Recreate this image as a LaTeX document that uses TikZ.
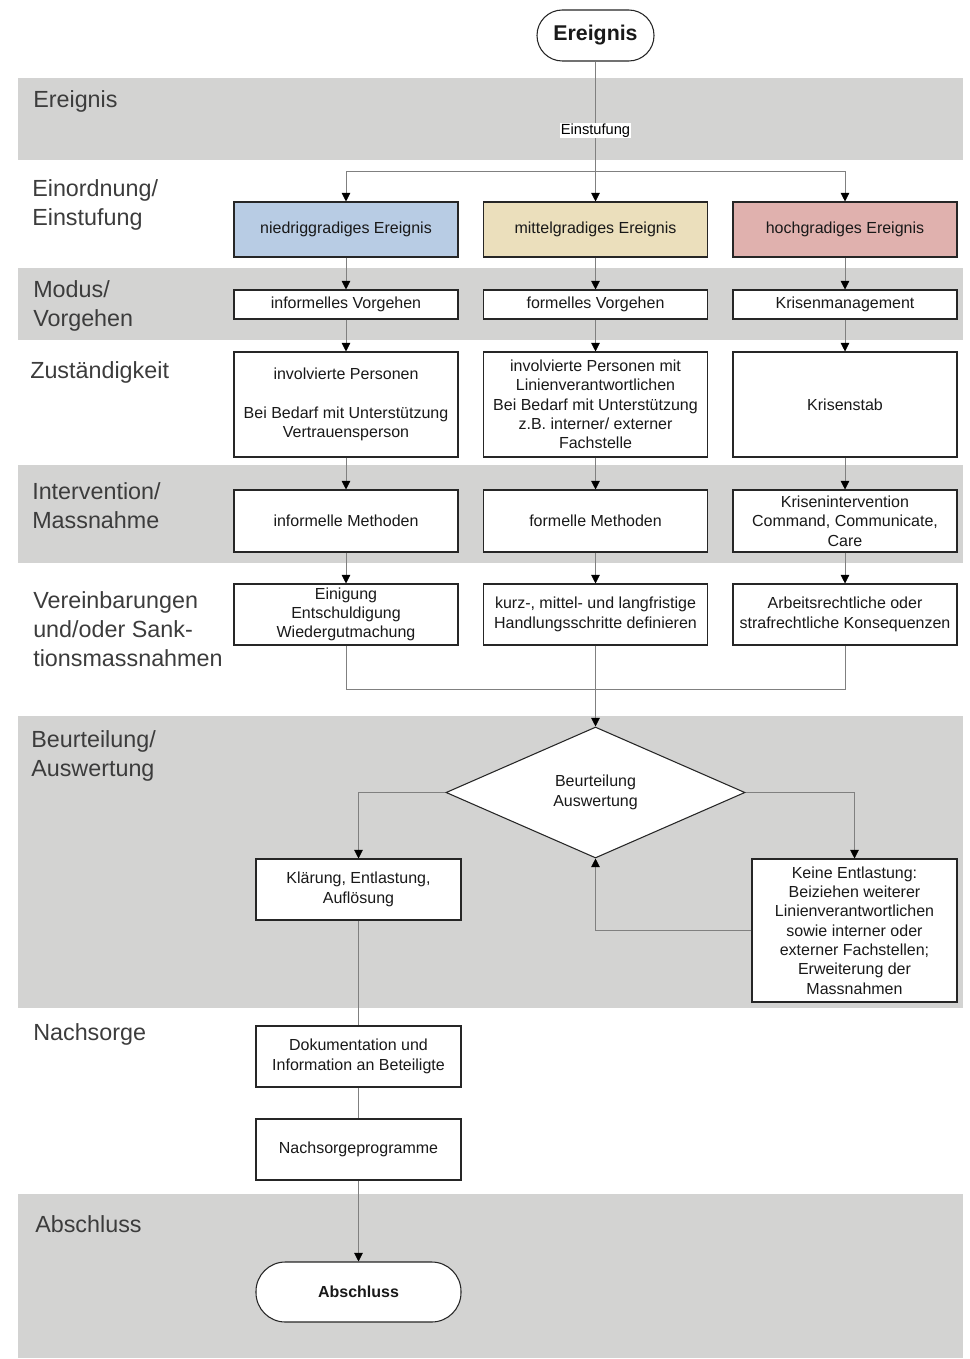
\documentclass[tikz,border=0pt]{standalone}
\usepackage{fontspec}
\setmainfont{Liberation Sans}
\usetikzlibrary{arrows.meta,shapes.geometric}

\definecolor{band}{RGB}{211,211,210}
\definecolor{lowev}{RGB}{184,204,228}
\definecolor{midev}{RGB}{235,223,188}
\definecolor{highev}{RGB}{224,177,174}
\definecolor{lanetext}{RGB}{60,60,60}

\tikzset{
  box/.style={draw=black!85, line width=0.8pt, fill=white, align=center, inner sep=2pt,
    text=black!90, font=\fontsize{12}{14.5}\selectfont},
  colbox/.style={box, minimum width=168pt},
  sidebox/.style={box, minimum width=153.75pt, minimum height=45.75pt},
  conn/.style={draw=black!50, line width=0.6pt},
  arr/.style={conn, -{Triangle[width=6.5pt,length=6.5pt,black]}},
  lane/.style={anchor=west, align=left, inner sep=0pt, text=lanetext,
    font=\fontsize{17.5}{21.75}\selectfont},
}

\begin{document}
\begin{tikzpicture}[x=0.75pt,y=-0.75pt]
\useasboundingbox (0,0) rectangle (970,1359);

% bands
\fill[band] (18,78) rectangle (963,160);
\fill[band] (18,268) rectangle (963,340);
\fill[band] (18,465) rectangle (963,563);
\fill[band] (18,716) rectangle (963,1008);
\fill[band] (18,1194) rectangle (963,1358);

% lane titles
\node[lane] (lEreignis) at (33,101) {Ereignis};
\node[lane] (lEinordnung) at (32,204.5) {Einordnung/\\Einstufung};
\node[lane] (lModus) at (33,306) {Modus/\\Vorgehen};
\node[lane] (lZust) at (30,372) {Zuständigkeit};
\node[lane] (lInterv) at (32,506) {Intervention/\\Massnahme};
\node[lane] (lVereinb) at (33,629) {Vereinbarungen\\und/oder Sank-\\tionsmassnahmen};
\node[lane] (lBeurt) at (31,756) {Beurteilung/\\Auswertung};
\node[lane] (lNachsorge) at (33,1034) {Nachsorge};
\node[lane] (lAbschluss) at (35,1224) {Abschluss};

% start
\node[box, rounded corners=19pt, minimum width=87.75pt, minimum height=38.25pt,
  font=\fontsize{16}{18}\selectfont\bfseries] (ereignis) at (595.5,35.5) {Ereignis};
\coordinate (split) at (595.5,171);

% columns
\node[colbox, fill=lowev, minimum height=41.25pt] (lo1) at (346,229.5) {niedriggradiges Ereignis};
\node[colbox, fill=midev, minimum height=41.25pt] (mid1) at (595.5,229.5) {mittelgradiges Ereignis};
\node[colbox, fill=highev, minimum height=41.25pt] (hi1) at (845,229.5) {hochgradiges Ereignis};

\node[colbox, minimum height=21.75pt] (lo2) at (346,304.5) {informelles Vorgehen};
\node[colbox, minimum height=21.75pt] (mid2) at (595.5,304.5) {formelles Vorgehen};
\node[colbox, minimum height=21.75pt] (hi2) at (845,304.5) {Krisenmanagement};

\node[colbox, minimum height=78.75pt] (lo3) at (346,404.5)
  {involvierte Personen\\[14.5pt]Bei Bedarf mit Unterstützung\\Vertrauensperson};
\node[colbox, minimum height=78.75pt] (mid3) at (595.5,404.5)
  {involvierte Personen mit\\Linienverantwortlichen\\Bei Bedarf mit Unterstützung\\z.B. interner/ externer\\Fachstelle};
\node[colbox, minimum height=78.75pt] (hi3) at (845,404.5) {Krisenstab};

\node[colbox, minimum height=46.5pt] (lo4) at (346,521) {informelle Methoden};
\node[colbox, minimum height=46.5pt] (mid4) at (595.5,521) {formelle Methoden};
\node[colbox, minimum height=46.5pt] (hi4) at (845,521)
  {Krisenintervention\\Command, Communicate,\\Care};

\node[colbox, minimum height=45.75pt] (lo5) at (346,614.5)
  {Einigung\\Entschuldigung\\Wiedergutmachung};
\node[colbox, minimum height=45.75pt] (mid5) at (595.5,614.5)
  {kurz-, mittel- und langfristige\\Handlungsschritte definieren};
\node[colbox, minimum height=45.75pt] (hi5) at (845,614.5)
  {Arbeitsrechtliche oder\\strafrechtliche Konsequenzen};

\coordinate (joinLo) at (346,689);
\coordinate (joinHi) at (845,689);

% evaluation
\node[box, diamond, aspect=2.3, inner sep=0pt, minimum width=224.25pt, minimum height=98.25pt]
  (beurteilung) at (595.5,792.5) {Beurteilung\\Auswertung};
\node[sidebox] (klaerung) at (358.5,889.5) {Klärung, Entlastung,\\Auflösung};
\node[sidebox, minimum height=107.25pt] (keine) at (854.5,930.5)
  {Keine Entlastung:\\Beiziehen weiterer\\Linienverantwortlichen\\sowie interner oder\\externer Fachstellen;\\Erweiterung der\\Massnahmen};

% aftercare
\node[sidebox] (doku) at (358.5,1056.5) {Dokumentation und\\Information an Beteiligte};
\node[sidebox] (programme) at (358.5,1149.5) {Nachsorgeprogramme};
\node[box, rounded corners=22pt, minimum width=153.75pt, minimum height=45pt,
  font=\fontsize{12}{14.5}\selectfont\bfseries] (abschluss) at (358.5,1292) {Abschluss};

% connectors
\draw[conn] (ereignis) -- (split);
\node[fill=white, inner sep=0.6pt, font=\fontsize{11}{12}\selectfont] (einstufung) at (595.5,130.5) {Einstufung};
\draw[arr] (split) -| (lo1);
\draw[arr] (split) -- (mid1);
\draw[arr] (split) -| (hi1);
\foreach \c in {lo,mid,hi}
  \foreach \a/\b in {1/2,2/3,3/4,4/5}
    \draw[arr] (\c\a) -- (\c\b);
\draw[conn] (lo5) -- (joinLo) -- (joinHi) -- (hi5);
\draw[arr] (mid5) -- (beurteilung);
\draw[arr] (beurteilung.west) -| (klaerung);
\draw[arr] (beurteilung.east) -| (keine);
\draw[arr] (keine.west) -| (beurteilung.south);
\draw[conn] (klaerung) -- (doku);
\draw[conn] (doku) -- (programme);
\draw[arr] (programme) -- (abschluss);
\end{tikzpicture}
\end{document}
